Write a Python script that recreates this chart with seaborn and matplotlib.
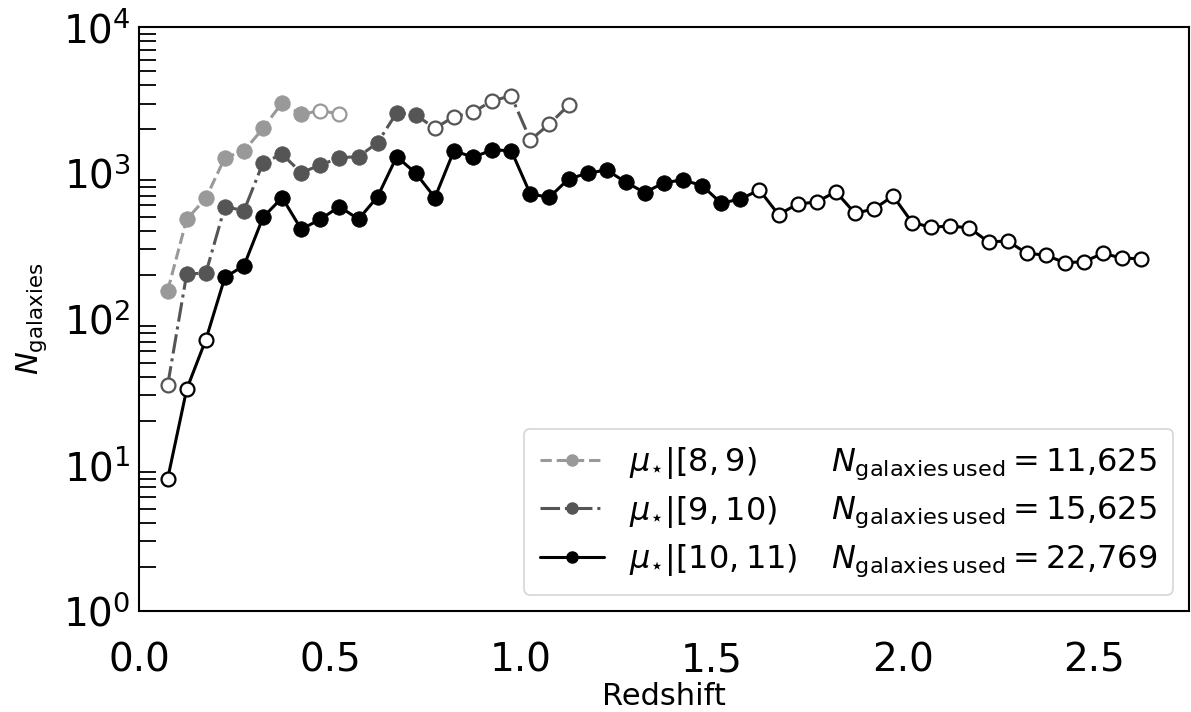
import numpy as np
import pandas as pd
import matplotlib
matplotlib.use("Agg")
import matplotlib.pyplot as plt
from matplotlib.lines import Line2D
import seaborn as sns

# ---------------- data ----------------
redshift = [0.075, 0.125, 0.175, 0.225, 0.275, 0.325, 0.375, 0.425, 0.475, 0.525,
            0.575, 0.625, 0.675, 0.725, 0.775, 0.825, 0.875, 0.925, 0.975, 1.025,
            1.075, 1.125, 1.175, 1.225, 1.275, 1.325, 1.375, 1.425, 1.475, 1.525,
            1.575, 1.625, 1.675, 1.725, 1.775, 1.825, 1.875, 1.925, 1.975, 2.025,
            2.075, 2.125, 2.175, 2.225, 2.275, 2.325, 2.375, 2.425, 2.475, 2.525,
            2.575, 2.625]

n_8_9 = [156, 483, 672, 1276, 1419, 2029, 3041, 2530, 2680, 2543]
filled_8_9 = [1, 1, 1, 1, 1, 1, 1, 1, 0, 0]

n_9_10 = [35, 204, 206, 589, 553, 1180, 1346, 1007, 1137, 1276, 1297, 1618,
          2596, 2505, 2029, 2438, 2613, 3139, 3380, 1687, 2172, 2918]
filled_9_10 = [0, 1, 1, 1, 1, 1, 1, 1, 1, 1, 1, 1, 1, 1, 0, 0, 0, 0, 0, 0, 0, 0]

n_10_11 = [8.0, 33, 72, 193, 232, 498, 679, 412, 483, 589, 483, 690, 1297, 998,
           679, 1426, 1284, 1442, 1426, 719, 683, 912, 998, 1052, 865, 735, 861,
           897, 821, 621, 665, 766, 519, 614, 634, 746, 531, 568, 697, 458, 426,
           434, 421, 337, 343, 282, 274, 243, 247, 282, 261, 259]
filled_10_11 = [0, 0, 0, 1, 1, 1, 1, 1, 1, 1, 1, 1, 1, 1, 1, 1, 1, 1, 1, 1, 1,
                1, 1, 1, 1, 1, 1, 1, 1, 1, 1, 0, 0, 0, 0, 0, 0, 0, 0, 0, 0, 0,
                0, 0, 0, 0, 0, 0, 0, 0, 0, 0]

bin_labels = [r'$\mu_{\star}|[8, 9)$', r'$\mu_{\star}|[9, 10)$', r'$\mu_{\star}|[10, 11)$']
n_used = ['11{,}625', '15{,}625', '22{,}769']

colors = ['#999999', '#555555', '#000000']
styles = ['--', '-.', '-']

# ---------------- style ----------------
sns.set_theme(style='white')
plt.rcParams['font.family'] = ['DejaVu Sans']
plt.rcParams['mathtext.fontset'] = 'dejavusans'
plt.rcParams['text.color'] = 'black'
plt.rcParams['axes.labelcolor'] = 'black'
plt.rcParams['xtick.color'] = 'black'
plt.rcParams['ytick.color'] = 'black'

fig = plt.figure(figsize=(11.91, 7.12), dpi=100)
ax = fig.add_axes([0.1167, 0.1423, 0.8816, 0.8194])

series = [(n_8_9, filled_8_9), (n_9_10, filled_9_10), (n_10_11, filled_10_11)]
for i, (vals, fl) in enumerate(series):
    df = pd.DataFrame({'z': redshift[:len(vals)], 'n': vals, 'filled': fl})
    sns.lineplot(data=df, x='z', y='n', ax=ax, color=colors[i], linestyle=styles[i],
                 lw=2.2, zorder=2 + i, estimator=None, sort=False)
    dff = df[df['filled'] == 1]
    dfo = df[df['filled'] == 0]
    sns.scatterplot(data=dff, x='z', y='n', ax=ax, color=colors[i], s=125,
                    edgecolor=colors[i], linewidth=0.5, zorder=2.5 + i)
    sns.scatterplot(data=dfo, x='z', y='n', ax=ax, color='white', s=100,
                    edgecolor=colors[i], linewidth=1.6, zorder=2.5 + i)

ax.set_yscale('log')
ax.set_ylim(1, 1e4)
ax.set_xlim(0, 2.75)
ax.set_xticks([0.0, 0.5, 1.0, 1.5, 2.0, 2.5])
ax.set_xticklabels(['0.0', '0.5', '1.0', '1.5', '2.0', '2.5'])

for sp in ax.spines.values():
    sp.set_linewidth(1.5)
    sp.set_color('black')

ax.tick_params(axis='both', which='major', direction='in', length=21, width=1.5,
               labelsize=28, color='black', labelcolor='black')
ax.tick_params(axis='y', which='minor', direction='in', length=12, width=1.3,
               color='black', left=True)
ax.tick_params(axis='x', which='minor', bottom=False)
ax.tick_params(axis='x', which='major', pad=22)
ax.tick_params(axis='y', which='major', pad=6)
ax.tick_params(top=False, right=False, which='both')

ax.set_xlabel('Redshift', fontsize=22, labelpad=2, color='black')
ax.set_ylabel(r'$N_{\mathrm{galaxies}}$', fontsize=22, labelpad=10, color='black')

# legend: two columns (bin labels with handles, galaxy counts without)
handles = []
for i in range(3):
    handles.append(Line2D([], [], color=colors[i], linestyle=styles[i], lw=2.2,
                          marker='o', markersize=8))
blank = [Line2D([], [], linestyle='none', marker=None) for _ in range(3)]
labels = list(bin_labels) + [r'$N_{\mathrm{galaxies\,used}} = %s$' % n for n in n_used]
leg = ax.legend(handles + blank, labels, ncol=2, loc='lower right', fontsize=23,
                columnspacing=-1.77, labelspacing=0.4, handlelength=2.0,
                handletextpad=0.8, borderpad=0.5, frameon=True, fancybox=True)
leg.get_frame().set_edgecolor('#cccccc')
leg.get_frame().set_linewidth(1.2)
for t in leg.get_texts():
    t.set_color('black')

fig.savefig('out.png', dpi=100)
